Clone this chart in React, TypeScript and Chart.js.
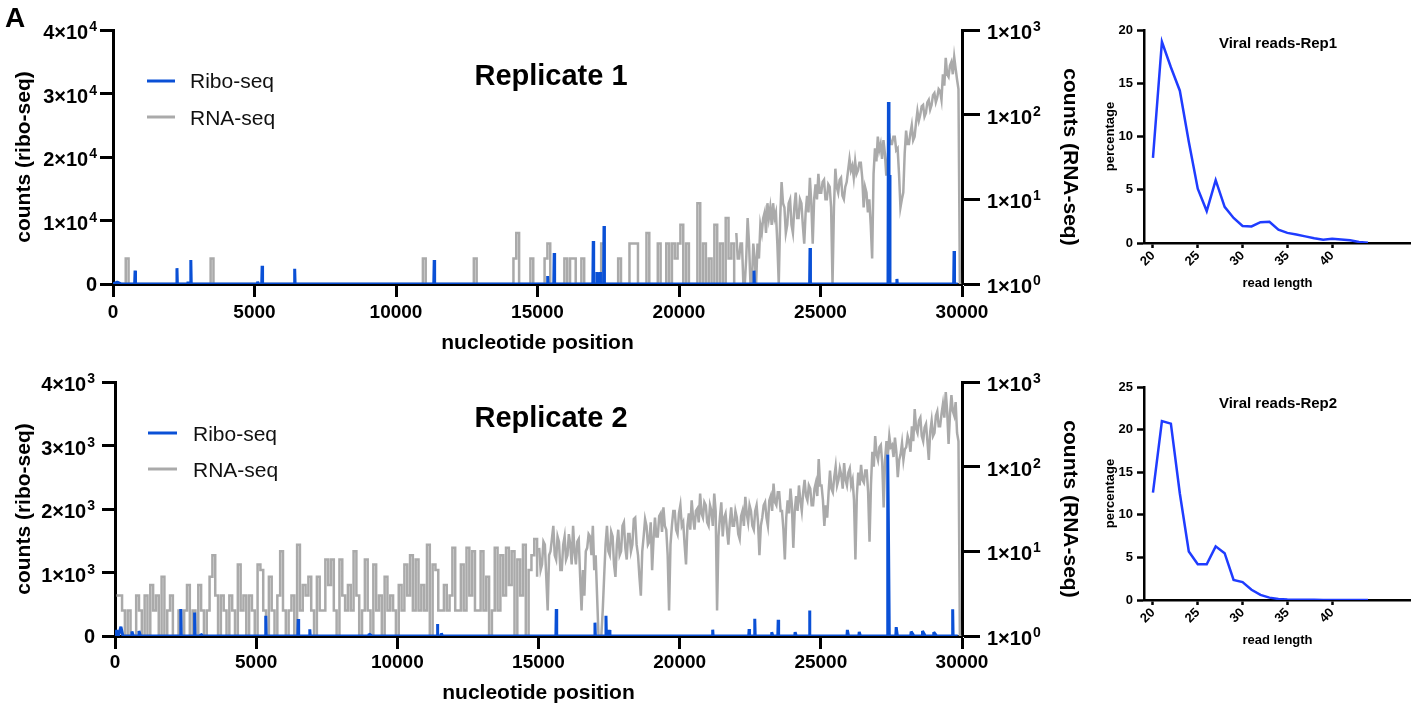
import React, { useEffect, useRef } from 'react';
import { Chart, registerables } from 'chart.js';

Chart.register(...registerables);

const FONT = '"Liberation Sans", Arial, Helvetica, sans-serif';
const BLUE = '#0a50d6';
const GREY = '#aaaaaa';
const LINE_BLUE = '#1f3cff';

// ---------- axis ticks ----------
const X_TICKS = [0, 5000, 10000, 15000, 20000, 25000, 30000];
const RNA_TICKS = [1, 10, 100, 1000];
const RNA_TICK_LABELS = ['1×10^0', '1×10^1', '1×10^2', '1×10^3'];
const RIBO1_TICKS = [0, 10000, 20000, 30000, 40000];
const RIBO1_TICK_LABELS = ['0', '1×10^4', '2×10^4', '3×10^4', '4×10^4'];
const RIBO2_TICKS = [0, 1000, 2000, 3000, 4000];
const RIBO2_TICK_LABELS = ['0', '1×10^3', '2×10^3', '3×10^3', '4×10^3'];
const LEN_TICKS = [20, 25, 30, 35, 40];
const PCT1_TICKS = [0, 5, 10, 15, 20];
const PCT2_TICKS = [0, 5, 10, 15, 20, 25];

// ---------- RNA-seq coverage ----------
// low-coverage part: counts per 100-nt bin from position 0
const LOW_BIN_NT = 100;
// high-coverage part: counts per 50-nt bin from the given start
const HIGH_BIN_NT = 50;

// Replicate 1: 0 - 22000 nt
const RNA1_LOW_COUNTS = [
  1, 1, 1, 1, 2, 1, 1, 1, 1, 1,
  1, 1, 1, 1, 1, 1, 1, 1, 1, 1,
  1, 1, 1, 1, 1, 1, 1, 1, 1, 1,
  1, 1, 1, 1, 2, 1, 1, 1, 1, 1,
  1, 1, 1, 1, 1, 1, 1, 1, 1, 1,
  1, 1, 1, 1, 1, 1, 1, 1, 1, 1,
  1, 1, 1, 1, 1, 1, 1, 1, 1, 1,
  1, 1, 1, 1, 1, 1, 1, 1, 1, 1,
  1, 1, 1, 1, 1, 1, 1, 1, 1, 1,
  1, 1, 1, 1, 1, 1, 1, 1, 1, 1,
  1, 1, 1, 1, 1, 1, 1, 1, 1, 2,
  1, 1, 1, 1, 1, 1, 1, 1, 1, 1,
  1, 1, 1, 1, 1, 1, 1, 2, 1, 1,
  1, 1, 1, 1, 1, 1, 1, 1, 1, 1,
  1, 2, 4, 1, 1, 1, 1, 2, 1, 1,
  1, 1, 2, 3, 1, 1, 1, 1, 1, 2,
  1, 2, 2, 1, 1, 2, 1, 1, 1, 1,
  1, 1, 3, 1, 1, 1, 1, 1, 2, 1,
  1, 1, 3, 3, 3, 1, 1, 1, 4, 1,
  1, 1, 3, 1, 1, 3, 1, 3, 2, 3,
  5, 1, 3, 1, 1, 1, 9, 1, 3, 1,
  2, 1, 5, 1, 3, 1, 6, 2, 3, 1,
];
// Replicate 1: 22000 - 30000 nt
const RNA1_HIGH_START = 22000;
const RNA1_HIGH_COUNTS = [
  4, 2, 2, 3, 3, 1, 1, 2, 6, 3, 1, 1, 3, 2, 1, 3, 2, 5, 4, 6,
  7, 4, 9, 6, 8, 5, 9, 6, 7, 3, 1, 6, 16, 9, 8, 4, 5, 9, 10, 5,
  4, 8, 12, 6, 6, 10, 9, 5, 3, 7, 11, 7, 18, 9, 3, 10, 15, 10, 20, 12,
  12, 16, 17, 10, 10, 15, 14, 8, 1, 8, 23, 14, 12, 17, 18, 11, 10, 14, 16, 22,
  30, 22, 25, 18, 28, 20, 22, 27, 27, 18, 8, 14, 12, 7, 10, 5, 2, 20, 40, 28,
  55, 38, 45, 30, 50, 35, 19, 28, 60, 45, 45, 55, 55, 38, 40, 20, 8, 10, 12, 35,
  65, 45, 45, 60, 75, 50, 55, 80, 110, 85, 100, 125, 130, 95, 105, 140, 150, 115, 130, 170,
  180, 140, 160, 200, 190, 150, 300, 220, 470, 300, 280, 380, 420, 300, 480, 350, 260, 200, 1, 1,
];

// Replicate 2: 0 - 15000 nt
const RNA2_LOW_COUNTS = [
  3, 3, 2, 1, 2, 1, 1, 3, 2, 1,
  3, 1, 4, 2, 3, 1, 5, 1, 2, 3,
  1, 1, 2, 1, 2, 4, 1, 2, 1, 4,
  2, 1, 2, 5, 9, 3, 1, 3, 2, 1,
  3, 2, 1, 7, 2, 3, 1, 3, 2, 1,
  7, 6, 2, 1, 5, 2, 1, 3, 10, 2,
  1, 2, 3, 1, 12, 2, 4, 3, 5, 2,
  1, 5, 2, 2, 8, 4, 8, 2, 1, 8,
  3, 2, 4, 2, 10, 3, 1, 2, 8, 2,
  1, 7, 2, 3, 1, 5, 2, 3, 2, 1,
  4, 2, 7, 3, 9, 2, 8, 2, 4, 2,
  12, 1, 7, 6, 2, 2, 4, 2, 3, 11,
  2, 2, 7, 2, 11, 3, 10, 2, 2, 10,
  2, 5, 1, 2, 11, 2, 9, 3, 11, 4,
  10, 1, 8, 3, 12, 1, 6, 9, 14, 5,
];
// Replicate 2: 15000 - 30000 nt
const RNA2_HIGH_START = 15000;
const RNA2_HIGH_COUNTS = [
  11, 6, 7, 13, 12, 5, 2, 9, 10, 14, 20, 9, 8, 15, 13, 6, 6, 12, 15, 8,
  9, 16, 12, 7, 20, 10, 7, 13, 14, 5, 2, 6, 3, 10, 11, 16, 15, 9, 20, 6,
  9, 3, 1, 1, 1, 2, 5, 12, 20, 10, 9, 17, 15, 7, 5, 12, 18, 9, 10, 20,
  22, 11, 8, 16, 16, 10, 12, 24, 25, 12, 9, 5, 3, 10, 15, 24, 20, 12, 13, 22,
  6, 14, 25, 15, 15, 26, 28, 17, 33, 20, 18, 9, 2, 12, 20, 30, 30, 18, 16, 28,
  35, 20, 22, 12, 7, 20, 28, 18, 40, 25, 18, 30, 32, 22, 48, 28, 25, 38, 35, 22,
  20, 35, 30, 20, 48, 30, 2, 15, 25, 38, 15, 25, 28, 18, 12, 22, 33, 20, 20, 30,
  25, 16, 14, 26, 30, 20, 44, 28, 22, 35, 30, 20, 18, 30, 35, 22, 9, 20, 25, 35,
  38, 25, 20, 40, 45, 30, 63, 38, 35, 50, 50, 30, 30, 18, 8, 25, 40, 28, 55, 35,
  11, 30, 45, 30, 60, 40, 30, 50, 70, 45, 40, 60, 55, 35, 35, 55, 65, 45, 123, 60,
  60, 40, 20, 35, 25, 50, 90, 55, 50, 75, 100, 60, 70, 95, 80, 55, 110, 70, 60, 85,
  95, 60, 70, 40, 8, 45, 85, 60, 105, 70, 65, 90, 90, 50, 13, 60, 150, 100, 230, 140,
  120, 170, 180, 110, 33, 120, 200, 140, 230, 170, 180, 130, 220, 150, 75, 120, 140, 190, 120, 160,
  170, 230, 200, 150, 300, 200, 480, 280, 250, 350, 380, 230, 200, 290, 320, 200, 120, 260, 350, 230,
  250, 400, 450, 300, 300, 420, 550, 380, 760, 450, 185, 420, 700, 450, 400, 580, 250, 200, 1, 1,
];

// ---------- Ribo-seq counts, [nucleotide position, count] ----------
const RIBO1 = [
  [0, 0], [150, 300], [300, 0],
  [765, 0], [780, 2100], [795, 0],
  [2245, 0], [2260, 2500], [2275, 0],
  [2635, 0], [2650, 400], [2665, 0],
  [2735, 0], [2750, 3780], [2765, 0],
  [5095, 0], [5110, 400], [5125, 0],
  [5255, 0], [5270, 2880], [5285, 0],
  [6405, 0], [6420, 2410], [6435, 0],
  [11335, 0], [11350, 3780], [11365, 0],
  [15345, 0], [15360, 1260], [15375, 0],
  [15575, 0], [15590, 4880], [15605, 0],
  [16955, 0], [16970, 6770], [16985, 0],
  [17085, 0], [17100, 1890], [17115, 0],
  [17195, 0], [17210, 1890], [17225, 0],
  [17335, 0], [17350, 9130], [17365, 0],
  [22635, 0], [22650, 2100], [22665, 0],
  [24615, 0], [24630, 5670], [24645, 0],
  [27385, 0], [27400, 28660], [27420, 17170], [27440, 17170], [27455, 0],
  [27685, 0], [27700, 790], [27715, 0],
  [29705, 0], [29720, 5200], [29735, 0],
  [29850, 0],
];
const RIBO2 = [
  [0, 0], [60, 90], [120, 0], [210, 146], [280, 0],
  [585, 0], [600, 70], [650, 0], [835, 0], [850, 80], [900, 0],
  [2315, 0], [2330, 425], [2345, 0],
  [2805, 0], [2820, 370], [2835, 0],
  [3025, 0], [3040, 30], [3100, 0],
  [5325, 0], [5340, 320], [5355, 0],
  [6475, 0], [6490, 268], [6505, 0],
  [6885, 0], [6900, 105], [6915, 0],
  [8985, 0], [9000, 30], [9100, 0],
  [11405, 0], [11420, 190], [11435, 0], [11545, 0], [11560, 40], [11600, 0],
  [15615, 0], [15630, 425], [15645, 0],
  [16985, 0], [17000, 210], [17015, 0],
  [17375, 0], [17390, 320], [17405, 0], [17485, 0], [17500, 95], [17530, 0],
  [21155, 0], [21170, 100], [21185, 0],
  [22445, 0], [22460, 110], [22475, 0],
  [22645, 0], [22660, 273], [22675, 0],
  [23245, 0], [23260, 60], [23300, 0],
  [23475, 0], [23490, 257], [23505, 0],
  [24075, 0], [24090, 60], [24130, 0],
  [24585, 0], [24600, 400], [24615, 0],
  [25925, 0], [25940, 95], [25980, 0], [26345, 0], [26360, 63], [26400, 0],
  [27355, 0], [27370, 2860], [27390, 1900], [27410, 1900], [27425, 0],
  [27655, 0], [27670, 140], [27710, 0],
  [28185, 0], [28200, 70], [28300, 0], [28585, 0], [28600, 80], [28700, 0], [28985, 0], [29000, 60], [29100, 0],
  [29655, 0], [29670, 420], [29685, 0],
  [29850, 0],
];

// ---------- read length distributions ----------
const READ_LENGTHS = [20, 21, 22, 23, 24, 25, 26, 27, 28, 29, 30, 31, 32, 33, 34, 35, 36, 37, 38, 39, 40, 41, 42, 43, 44];
const REP1_PCT = [8.0, 18.9, 16.5, 14.3, 9.5, 5.1, 3.0, 5.9, 3.4, 2.35, 1.6, 1.55, 1.95, 2.0, 1.25, 0.95, 0.8, 0.62, 0.45, 0.3, 0.4, 0.33, 0.25, 0.1, 0.03];
const REP2_PCT = [12.6, 21.0, 20.7, 12.5, 5.7, 4.2, 4.2, 6.3, 5.5, 2.35, 2.1, 1.2, 0.6, 0.28, 0.12, 0.06, 0.03, 0.02, 0.02, 0.01, 0.01, 0.01, 0.01, 0.01, 0.01];

// ---------- helpers ----------
const toPoints = (pairs) => pairs.map((p) => ({ x: p[0], y: p[1] }));
const binPoints = (counts, start, bin) => counts.map((c, i) => ({ x: start + i * bin + bin / 2, y: c }));
const fixedTicks = (values) => (s) => {
  s.ticks = values.map((v) => ({ value: v }));
};
const gridOpts = (tl, w) => ({
  display: true,
  drawOnChartArea: false,
  drawTicks: true,
  tickLength: tl,
  tickWidth: w,
  tickColor: '#000',
  color: '#000',
});

function overlay(draw) {
  return {
    id: 'overlayText',
    afterDraw(chart) {
      const ctx = chart.ctx;
      ctx.save();
      draw(ctx, chart);
      ctx.restore();
    },
  };
}

// draws "a×10^b" with a raised exponent
function drawPowLabel(ctx, label, x, y, align) {
  const [base, sup] = label.split('^');
  ctx.textAlign = 'left';
  ctx.textBaseline = 'alphabetic';
  ctx.fillStyle = '#000';
  ctx.font = `bold 20px ${FONT}`;
  const bw = ctx.measureText(base).width;
  ctx.font = `bold 14px ${FONT}`;
  const sw = sup ? ctx.measureText(sup).width + 1 : 0;
  const x0 = align === 'right' ? x - bw - sw : x;
  ctx.font = `bold 20px ${FONT}`;
  ctx.fillText(base, x0, y + (sup ? 9 : 7));
  if (sup) {
    ctx.font = `bold 14px ${FONT}`;
    ctx.fillText(sup, x0 + bw + 1, y + 1);
  }
}

function bigConfig(o) {
  const tickFont = { family: FONT, size: 19, weight: 'bold' };
  const titleFont = { family: FONT, size: 21, weight: 'bold' };
  return {
    type: 'line',
    data: {
      datasets: [
        {
          label: 'Ribo-seq',
          data: toPoints(o.ribo),
          yAxisID: 'y',
          borderColor: BLUE,
          backgroundColor: BLUE,
          borderWidth: 3,
          pointRadius: 0,
          tension: 0,
          order: 0,
          borderJoinStyle: 'bevel',
        },
        {
          label: 'RNA-seq',
          data: binPoints(o.rnaLow, 0, LOW_BIN_NT),
          yAxisID: 'y1',
          borderColor: GREY,
          backgroundColor: GREY,
          borderWidth: 2.5,
          pointRadius: 0,
          stepped: true,
          order: 1,
        },
        {
          label: 'RNA-seq',
          data: binPoints(o.rnaHigh, o.rnaHighStart, HIGH_BIN_NT),
          yAxisID: 'y1',
          borderColor: GREY,
          backgroundColor: GREY,
          borderWidth: 2.5,
          pointRadius: 0,
          tension: 0,
          order: 2,
        },
      ],
    },
    options: {
      responsive: false,
      animation: false,
      events: [],
      layout: { padding: { top: 30, left: 0, right: 0, bottom: 0 } },
      plugins: { legend: { display: false }, tooltip: { enabled: false } },
      scales: {
        x: {
          type: 'linear',
          min: 0,
          max: 30000,
          afterBuildTicks: fixedTicks(X_TICKS),
          ticks: {
            autoSkip: false,
            maxRotation: 0,
            minRotation: 0,
            padding: o.xTickPad,
            color: '#000',
            font: tickFont,
            callback: (v) => String(v),
          },
          grid: gridOpts(13, 3),
          border: { display: true, color: '#000', width: 3 },
          title: {
            display: true,
            text: 'nucleotide position',
            color: '#000',
            font: titleFont,
            padding: { top: 0, bottom: o.xTitlePad },
          },
          afterFit: (s) => {
            s.height = 74;
          },
        },
        y: {
          type: 'linear',
          position: 'left',
          min: 0,
          max: o.riboMax,
          afterBuildTicks: fixedTicks(o.riboTicks),
          ticks: { display: false, autoSkip: false },
          grid: gridOpts(13, 3),
          border: { display: true, color: '#000', width: 3 },
          title: {
            display: true,
            text: 'counts (ribo-seq)',
            color: '#000',
            font: titleFont,
            padding: { top: 12, bottom: 0 },
          },
          afterFit: (s) => {
            s.width = o.leftWidth;
          },
        },
        y1: {
          type: 'logarithmic',
          position: 'right',
          min: 1,
          max: 1000,
          afterBuildTicks: fixedTicks(RNA_TICKS),
          ticks: { display: false, autoSkip: false },
          grid: gridOpts(18, 3),
          border: { display: true, color: '#000', width: 3 },
          title: {
            display: true,
            text: 'counts (RNA-seq)',
            color: '#000',
            font: titleFont,
            padding: { top: 13, bottom: 0 },
          },
          afterFit: (s) => {
            s.width = 133;
          },
        },
      },
    },
    plugins: [
      overlay((ctx, chart) => {
        const area = chart.chartArea;
        const yS = chart.scales.y;
        const y1S = chart.scales.y1;
        o.riboTicks.forEach((v, i) => {
          drawPowLabel(ctx, o.riboLabels[i], area.left - o.leftLabelGap, yS.getPixelForValue(v), 'right');
        });
        RNA_TICKS.forEach((v, i) => {
          drawPowLabel(ctx, RNA_TICK_LABELS[i], area.right + 25, y1S.getPixelForValue(v), 'left');
        });
        ctx.fillStyle = '#000';
        ctx.textBaseline = 'alphabetic';
        if (o.panel) {
          ctx.font = `bold 28px ${FONT}`;
          ctx.textAlign = 'left';
          ctx.fillText(o.panel, 5, 27);
        }
        ctx.font = `bold 29px ${FONT}`;
        ctx.textAlign = 'center';
        ctx.fillText(o.title, 551, o.titleBaseline);
        const ds = chart.data.datasets.slice(0, 2);
        ctx.textAlign = 'left';
        ctx.font = `21px ${FONT}`;
        ds.forEach((d, i) => {
          ctx.strokeStyle = d.borderColor;
          ctx.lineWidth = 3;
          ctx.beginPath();
          ctx.moveTo(o.legendX0, o.legendLineY[i]);
          ctx.lineTo(o.legendX1, o.legendLineY[i]);
          ctx.stroke();
          ctx.fillStyle = '#111';
          ctx.fillText(d.label, o.legendTextX, o.legendBaseY[i]);
        });
      }),
    ],
  };
}

function smallConfig(o) {
  const tickFont = { family: FONT, size: 13, weight: 'bold' };
  const titleFont = { family: FONT, size: 13, weight: 'bold' };
  return {
    type: 'line',
    data: {
      datasets: [
        {
          label: o.title,
          data: READ_LENGTHS.map((x, i) => ({ x, y: o.pct[i] })),
          borderColor: LINE_BLUE,
          backgroundColor: LINE_BLUE,
          borderWidth: 2.5,
          pointRadius: 0,
          tension: 0,
        },
      ],
    },
    options: {
      responsive: false,
      animation: false,
      events: [],
      layout: { padding: { top: 30, left: 0, right: 0, bottom: 0 } },
      plugins: { legend: { display: false }, tooltip: { enabled: false } },
      scales: {
        x: {
          type: 'linear',
          min: 19,
          max: 48.8,
          afterBuildTicks: fixedTicks(LEN_TICKS),
          ticks: {
            autoSkip: false,
            minRotation: 45,
            maxRotation: 45,
            padding: 0,
            color: '#000',
            font: tickFont,
            callback: (v) => String(v),
          },
          grid: gridOpts(5, 2.5),
          border: { display: true, color: '#000', width: 2.5 },
          title: {
            display: true,
            text: 'read length',
            color: '#000',
            font: titleFont,
            padding: { top: 0, bottom: 9 },
          },
          afterFit: (s) => {
            s.height = 57;
          },
        },
        y: {
          type: 'linear',
          min: 0,
          max: o.yMax,
          afterBuildTicks: fixedTicks(o.yTicks),
          ticks: {
            autoSkip: false,
            padding: 4,
            color: '#000',
            font: tickFont,
            callback: (v) => String(v),
          },
          grid: gridOpts(7, 2.5),
          border: { display: true, color: '#000', width: 2.5 },
          title: {
            display: true,
            text: 'percentage',
            color: '#000',
            font: titleFont,
            padding: { top: 23, bottom: 0 },
          },
          afterFit: (s) => {
            s.width = 64;
          },
        },
      },
    },
    plugins: [
      overlay((ctx, chart) => {
        ctx.fillStyle = '#000';
        ctx.font = `bold 15px ${FONT}`;
        ctx.textAlign = 'center';
        ctx.textBaseline = 'alphabetic';
        ctx.fillText(chart.data.datasets[0].label, 198, o.titleBaseline);
      }),
    ],
  };
}

function ChartBox({ left, top, width, height, makeConfig }) {
  const ref = useRef(null);
  useEffect(() => {
    const chart = new Chart(ref.current, makeConfig());
    return () => chart.destroy();
  }, []);
  return (
    <canvas
      ref={ref}
      width={width}
      height={height}
      style={{ position: 'absolute', left, top, width, height, display: 'block' }}
    />
  );
}

export default function App() {
  return (
    <div
      style={{
        position: 'absolute',
        left: 0,
        top: 0,
        width: 1411,
        height: 712,
        background: '#fff',
        overflow: 'hidden',
      }}
    >
      <ChartBox
        left={0}
        top={0}
        width={1095}
        height={358}
        makeConfig={() =>
          bigConfig({
            ribo: RIBO1,
            rnaLow: RNA1_LOW_COUNTS,
            rnaHigh: RNA1_HIGH_COUNTS,
            rnaHighStart: RNA1_HIGH_START,
            riboTicks: RIBO1_TICKS,
            riboLabels: RIBO1_TICK_LABELS,
            riboMax: 40000,
            leftWidth: 113,
            leftLabelGap: 16,
            xTickPad: 4,
            xTitlePad: 2,
            panel: 'A',
            title: 'Replicate 1',
            titleBaseline: 85,
            legendX0: 147,
            legendX1: 175,
            legendTextX: 190,
            legendLineY: [81, 117],
            legendBaseY: [88, 125],
          })
        }
      />
      <ChartBox
        left={0}
        top={352}
        width={1095}
        height={358}
        makeConfig={() =>
          bigConfig({
            ribo: RIBO2,
            rnaLow: RNA2_LOW_COUNTS,
            rnaHigh: RNA2_HIGH_COUNTS,
            rnaHighStart: RNA2_HIGH_START,
            riboTicks: RIBO2_TICKS,
            riboLabels: RIBO2_TICK_LABELS,
            riboMax: 4000,
            leftWidth: 115,
            leftLabelGap: 20,
            xTickPad: 2,
            xTitlePad: 4,
            panel: '',
            title: 'Replicate 2',
            titleBaseline: 75,
            legendX0: 148,
            legendX1: 177,
            legendTextX: 193,
            legendLineY: [81, 117],
            legendBaseY: [89, 125],
          })
        }
      />
      <ChartBox
        left={1080}
        top={0}
        width={331}
        height={300}
        makeConfig={() =>
          smallConfig({ pct: REP1_PCT, yMax: 20, yTicks: PCT1_TICKS, title: 'Viral reads-Rep1', titleBaseline: 48 })
        }
      />
      <ChartBox
        left={1080}
        top={357}
        width={331}
        height={300}
        makeConfig={() =>
          smallConfig({ pct: REP2_PCT, yMax: 25, yTicks: PCT2_TICKS, title: 'Viral reads-Rep2', titleBaseline: 51 })
        }
      />
    </div>
  );
}
